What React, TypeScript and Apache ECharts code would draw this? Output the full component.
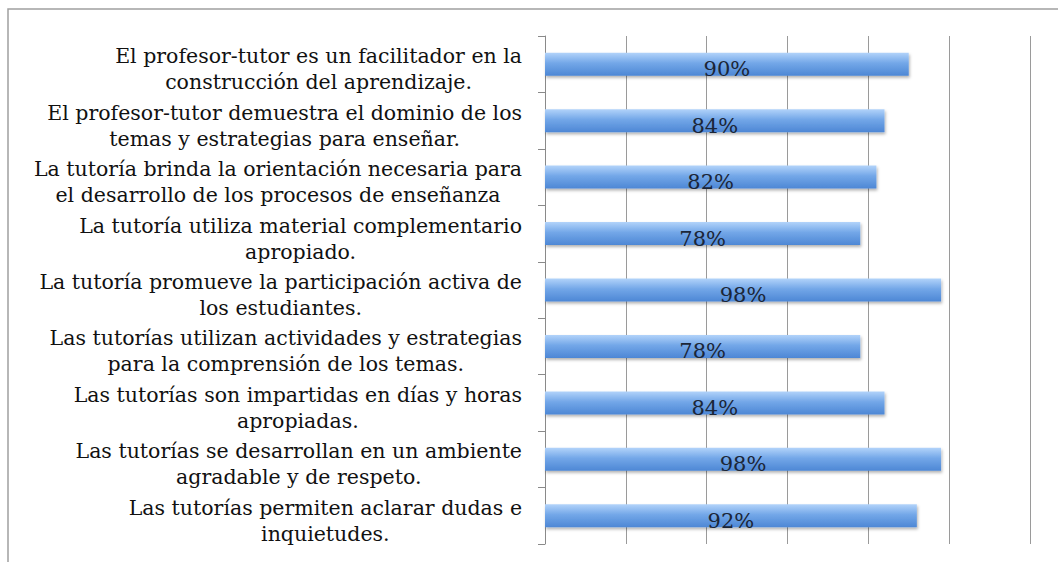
import React, { useEffect, useRef } from "react";
import * as echarts from "echarts";

const categories: string[] = [
  "El profesor-tutor es un facilitador en la\nconstrucción del aprendizaje.",
  "El profesor-tutor demuestra el dominio de los\ntemas y estrategias para enseñar.",
  "La tutoría brinda la orientación necesaria para\nel desarrollo de los procesos de enseñanza",
  "La tutoría utiliza material complementario\napropiado.",
  "La tutoría promueve la participación activa de\nlos estudiantes.",
  "Las tutorías utilizan actividades y estrategias\npara la comprensión de los temas.",
  "Las tutorías son impartidas en días y horas\napropiadas.",
  "Las tutorías se desarrollan en un ambiente\nagradable y de respeto.",
  "Las tutorías permiten aclarar dudas e\ninquietudes.",
];

const values: number[] = [0.9, 0.84, 0.82, 0.78, 0.98, 0.78, 0.84, 0.98, 0.92];

const FONT = "'DejaVu Serif', 'Liberation Serif', serif";

export default function App() {
  const ref = useRef<HTMLDivElement>(null);
  useEffect(() => {
    document.body.style.margin = "0";
    const chart = echarts.init(ref.current!, null, { renderer: "svg" });
    chart.setOption({
      animation: false,
      backgroundColor: "#ffffff",
      graphic: [
        {
          type: "rect",
          shape: { x: 8, y: 9, width: 1200, height: 700 },
          style: { fill: "none", stroke: "#a0a0a0", lineWidth: 1.5 },
          z: 0,
        },
      ],
      grid: { left: 545, right: 28, top: 36, bottom: 18, containLabel: false },
      xAxis: {
        type: "value",
        min: 0,
        max: 1.2,
        interval: 0.2,
        axisLabel: { show: false },
        axisLine: { show: false },
        axisTick: { show: false },
        splitLine: { show: true, lineStyle: { color: "#9a9a9a", width: 1 } },
      },
      yAxis: {
        type: "category",
        inverse: true,
        data: categories,
        axisLine: { show: true, lineStyle: { color: "#8a8a8a", width: 1 } },
        axisTick: { show: true, length: 7, lineStyle: { color: "#8a8a8a" } },
        axisLabel: {
          margin: 23,
          padding: [10, 0, 0, 0],
          formatter: (v: string) =>
            v
              .split("\n")
              .map((l) => "{c|" + l + "}")
              .join("\n"),
          rich: {
            c: {
              align: "center",
              fontFamily: FONT,
              fontSize: 20.5,
              lineHeight: 26,
              color: "#111111",
            },
          },
        },
      },
      series: [
        {
          type: "bar",
          data: values,
          barWidth: 23,
          itemStyle: {
            color: new echarts.graphic.LinearGradient(0, 0, 0, 1, [
              { offset: 0, color: "#b2d3fa" },
              { offset: 0.45, color: "#73a7e8" },
              { offset: 1, color: "#4d87d5" },
            ]),
            shadowBlur: 3,
            shadowOffsetY: 2,
            shadowOffsetX: 1,
            shadowColor: "rgba(0,0,0,0.3)",
          },
          label: {
            show: true,
            position: "inside",
            offset: [0, 5],
            formatter: (p: any) => Math.round(p.value * 100) + "%",
            fontFamily: FONT,
            fontSize: 21,
            color: "#1b2638",
          },
        },
      ],
    });
    return () => chart.dispose();
  }, []);
  return (
    <div
      ref={ref}
      style={{ position: "absolute", left: 0, top: 0, width: 1058, height: 562 }}
    />
  );
}
